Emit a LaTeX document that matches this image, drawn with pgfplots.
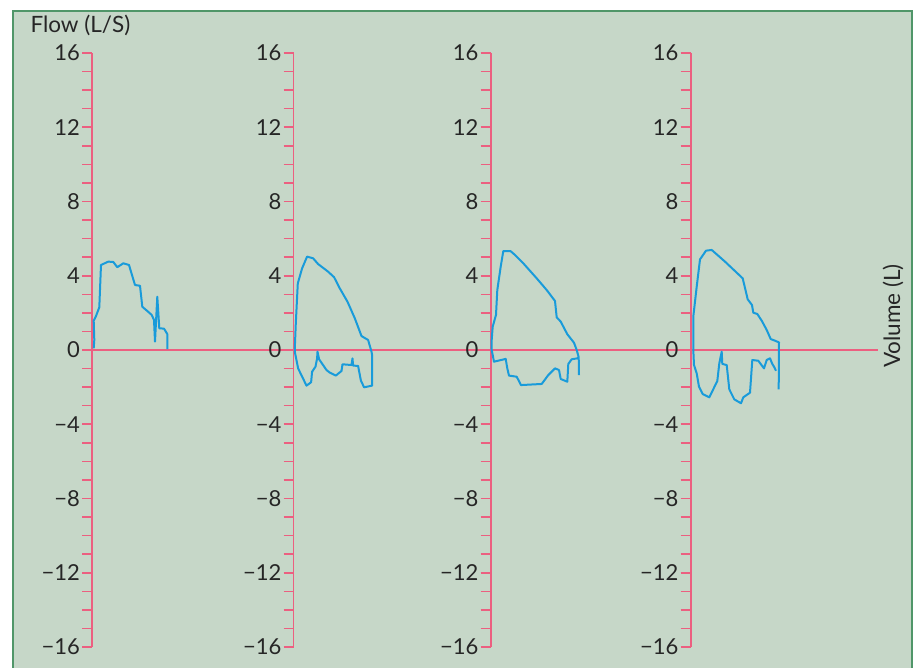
\documentclass[border=0pt]{standalone}
\usepackage{pgfplots}
\pgfplotsset{compat=1.18}
\usepackage{fontspec}
\setmainfont{Lato}
\definecolor{bg}{RGB}{198,215,200}
\definecolor{frame}{RGB}{80,150,105}
\definecolor{pinkax}{RGB}{236,95,128}
\definecolor{flowc}{RGB}{25,155,218}
\begin{document}
\begin{tikzpicture}
\fill[white] (0,0) rectangle (919pt,668pt);
\fill[bg] (13pt,-5pt) rectangle (912pt,657pt);
\draw[frame, line width=2.5pt] (13pt,-5pt) -- (13pt,657pt) -- (912pt,657pt) -- (912pt,-5pt);
\pgfplotsset{loopax/.style={scale only axis, height=594pt, ymin=-16, ymax=16, xmin=0,
  axis y line*=left, ytick={-16,-12,...,16}, yticklabels={−16,−12,−8,−4,0,4,8,12,16},
  minor y tick num=3, tick align=outside, major tick length=10pt, minor tick length=10pt,
  tick style={pinkax, line width=1.6pt}, axis line style={pinkax, line width=1.6pt},
  yticklabel style={font=\fontsize{22}{26}\selectfont, text=black!85, inner sep=2pt},
  clip=false, anchor=south west},
  loopline/.style={flowc, line width=2pt, no markers, line join=round}}
% loop 1
\begin{axis}[loopax, at={(92pt,21pt)}, width=786pt, xmax=39.3, axis x line*=middle, xtick=\empty]
\addplot[loopline] coordinates {(0.085,0.09) (0.115,0.54) (0.085,1.58) (0.2,1.83) (0.365,2.30) (0.45,4.58) (0.815,4.76) (1.065,4.74) (1.265,4.46) (1.565,4.67) (1.85,4.58) (2.15,3.50) (2.40,3.46) (2.515,2.33) (2.765,2.10) (2.985,1.89) (3.10,1.62) (3.15,0.45) (3.265,2.87) (3.365,1.17) (3.60,1.15) (3.765,0.86) (3.765,0.04)};
\end{axis}
% loop 2
\begin{axis}[loopax, at={(293.5pt,21pt)}, width=100pt, xmax=5, axis x line=none]
\addplot[loopline] coordinates {(0.065,0.09) (0.115,1.44) (0.215,3.59) (0.43,4.40) (0.68,5.03) (0.98,4.94) (1.23,4.63) (1.73,4.22) (2.03,3.92) (2.315,3.32) (2.70,2.60) (3.065,1.71) (3.40,0.75) (3.73,0.54) (3.90,-0.09) (3.93,-0.27) (3.93,-1.92) (3.53,-2.01) (3.37,-1.65) (3.23,-0.86) (2.98,-0.84) (2.95,-0.45) (2.90,-0.81) (2.45,-0.77) (2.40,-1.13) (2.115,-1.38) (1.815,-1.22) (1.65,-1.08) (1.28,-0.50) (1.20,-0.09) (1.18,-0.45) (1.10,-0.90) (0.93,-1.17) (0.88,-1.74) (0.65,-1.92) (0.23,-0.99) (0.065,-0.09) (0.065,0.09)};
\end{axis}
% loop 3
\begin{axis}[loopax, at={(490.7pt,21pt)}, width=100pt, xmax=5, axis x line=none]
\addplot[loopline] coordinates {(4.415,-1.35) (4.40,-0.39) (4.30,0) (4.165,0.39) (3.83,0.85) (3.50,1.53) (3.30,1.76) (3.215,2.64) (2.80,3.23) (2.30,3.86) (1.63,4.67) (1.215,5.12) (1.0,5.32) (0.63,5.33) (0.50,4.49) (0.33,3.23) (0.265,1.89) (0.10,1.26) (0.05,0.54) (0.05,0) (0.165,-0.63) (0.75,-0.48) (0.83,-0.99) (0.915,-1.38) (1.30,-1.44) (1.515,-1.89) (2.55,-1.83) (2.88,-1.35) (3.215,-0.99) (3.415,-1.08) (3.50,-1.56) (3.83,-1.71) (3.88,-0.75) (4.05,-0.50) (4.33,-0.45) (4.40,-0.39)};
\end{axis}
% loop 4
\begin{axis}[loopax, at={(690.7pt,21pt)}, width=100pt, xmax=5, axis x line=none]
\addplot[loopline] coordinates {(4.40,-2.12) (4.415,0.41) (4.215,0.50) (4.0,0.59) (3.80,1.08) (3.55,1.58) (3.33,1.94) (3.13,2.01) (3.065,2.42) (2.85,2.73) (2.60,3.86) (1.715,4.76) (1.05,5.39) (0.765,5.35) (0.465,4.88) (0.30,3.41) (0.13,1.80) (0.13,0) (0.165,-0.81) (0.30,-1.26) (0.415,-1.98) (0.60,-2.37) (0.93,-2.55) (1.33,-1.67) (1.43,-0.72) (1.55,-0.09) (1.58,-0.75) (1.80,-0.81) (1.93,-2.12) (2.18,-2.66) (2.515,-2.87) (2.63,-2.55) (2.965,-2.30) (3.08,-0.54) (3.38,-0.58) (3.665,-0.99) (3.80,-0.54) (3.965,-0.45) (4.08,-0.75) (4.165,-0.90) (4.265,-1.12)};
\end{axis}
\node[anchor=base west, font=\fontsize{22.5}{26}\selectfont, text=black!85] at (27pt,635pt) {Flow (L/S)};
\node[rotate=90, font=\fontsize{22.5}{26}\selectfont, text=black!85] at (893pt,352pt) {Volume (L)};
\pgfresetboundingbox
\path (0,0) rectangle (919pt,668pt);
\end{tikzpicture}
\end{document}
